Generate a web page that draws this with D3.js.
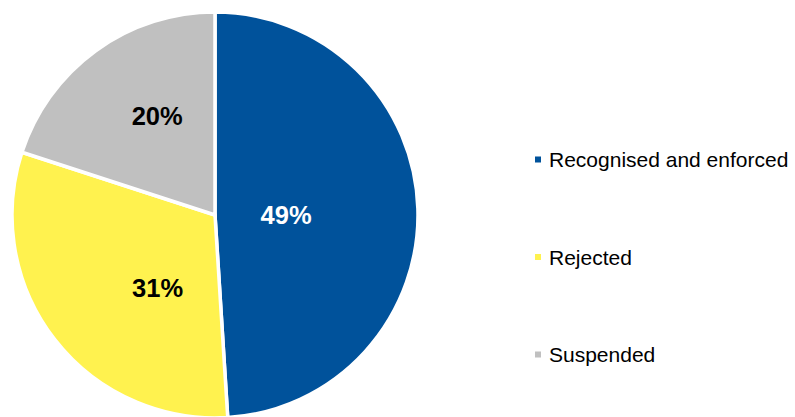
<!DOCTYPE html>
<html><head><meta charset="utf-8">
<script src="https://cdn.jsdelivr.net/npm/d3@7"></script>
<style>body{margin:0;background:#fff}svg{display:block}</style>
</head><body>
<svg id="c" width="795" height="417"></svg>
<script>
const categories = ["Recognised and enforced", "Rejected", "Suspended"];
const values = [49, 31, 20];
const colors = ["#00529b", "#fff24f", "#c0c0c0"];
const labelColors = ["#ffffff", "#000000", "#000000"];

const svg = d3.select("#c");
const cx = 215, cy = 215, r = 203;
const pie = d3.pie().sort(null).value(d => d)(values);
const arc = d3.arc().innerRadius(0).outerRadius(r);
const g = svg.append("g").attr("transform", `translate(${cx},${cy})`);
g.selectAll("path").data(pie).join("path")
  .attr("d", arc).attr("fill", (d, i) => colors[i])
  .attr("stroke", "#fff").attr("stroke-width", 3.5).attr("stroke-linejoin", "miter");

// label placement style (radius fraction and angular shift, like Excel best-fit)
const labelRadius = [0.35, 0.455, 0.565];
const labelAngleShift = [0.03, -0.24, 0.1];
g.selectAll("text").data(pie).join("text")
  .attr("transform", (d, i) => {
    const a = (d.startAngle + d.endAngle) / 2 + labelAngleShift[i];
    const rr = r * labelRadius[i];
    return `translate(${rr * Math.sin(a)},${-rr * Math.cos(a)})`;
  })
  .attr("text-anchor", "middle").attr("dy", "0.36em")
  .attr("font-family", "Liberation Sans, Arial, sans-serif")
  .attr("font-weight", "bold").attr("font-size", 25.5)
  .attr("fill", (d, i) => labelColors[i])
  .text(d => d.data + "%");

const ly = d3.scalePoint().domain(categories).range([159.5, 354.5]);
const lg = svg.append("g");
categories.forEach((c, i) => {
  lg.append("rect").attr("x", 535).attr("y", ly(c) - 3).attr("width", 6).attr("height", 6).attr("fill", colors[i]);
  lg.append("text").attr("x", 549).attr("y", ly(c)).attr("dy", "0.36em")
    .attr("font-family", "Liberation Sans, Arial, sans-serif").attr("font-size", 21)
    .attr("fill", "#000").text(c);
});
</script>
</body></html>
